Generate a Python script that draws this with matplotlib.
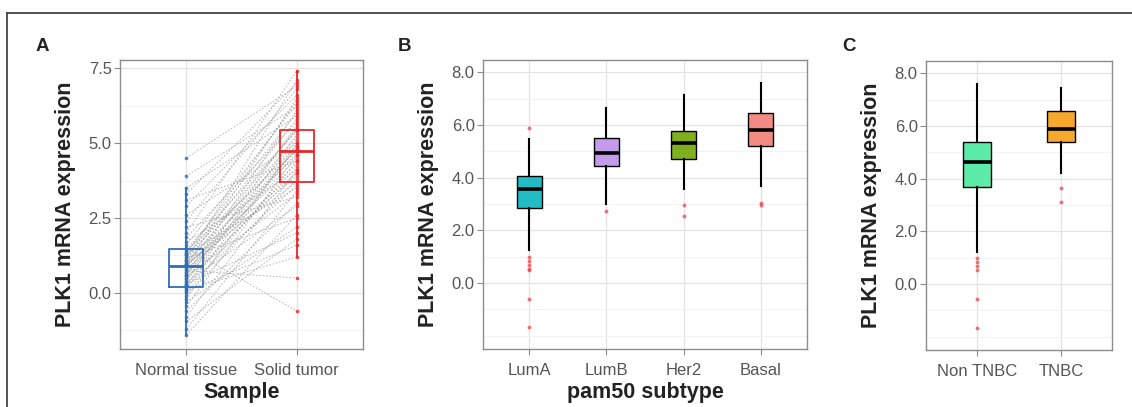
"""
PLK1 mRNA expression: paired normal/tumour (A), pam50 subtype (B), TNBC status (C).
"""

import matplotlib.pyplot as plt
from matplotlib.lines import Line2D
from matplotlib.ticker import FixedLocator, FormatStrFormatter

plt.rcParams["font.family"] = ["Liberation Sans", "DejaVu Sans"]

# ── panel A: paired samples ──────────────────────────────────────────────
PAIR_GROUPS = ["Normal tissue", "Solid tumor"]
normal_vals = [
    -1.4, -1.2, -0.95, -0.8, -0.6, -0.45, -0.3, -0.2, -0.1, 0.0,
    0.1, 0.15, 0.2, 0.25, 0.3, 0.35, 0.4, 0.45, 0.5, 0.55,
    0.6, 0.65, 0.7, 0.75, 0.8, 0.85, 0.88, 0.9, 0.92, 0.95,
    1.0, 1.05, 1.1, 1.15, 1.2, 1.25, 1.3, 1.35, 1.4, 1.45,
    1.5, 1.6, 1.7, 1.85, 2.0, 2.2, 2.4, 2.6, 2.9, 3.1,
    3.3, 3.5, 3.9, 4.5, 0.05, 0.6, 1.1, 0.3, 0.95, 1.3,
]
tumor_vals = [
    2.6, 3.4, 1.8, 4.1, 3.0, 4.6, 2.2, 5.0, 3.8, 4.4,
    1.2, 4.9, 3.6, 5.3, 4.2, 2.9, 5.6, 4.0, 4.7, 3.3,
    6.1, 4.5, 5.1, 0.5, 3.9, 4.8, 5.5, 4.3, 6.5, 3.7,
    5.2, 4.6, 7.1, 2.5, 5.8, 4.9, 3.5, 6.0, 4.75, 5.4,
    -0.6, 6.3, 4.1, 5.7, 7.4, 3.2, 6.8, 5.0, 6.6, 4.4,
    7.0, 5.9, 6.2, 6.9, 1.6, 4.8, 5.45, 2.0, 4.0, 6.4,
]
# box stats: (q1, median, q3, whisker low, whisker high)
pair_box = {
    "Normal tissue": (0.2, 0.9, 1.45, -1.4, 3.5),
    "Solid tumor": (3.7, 4.75, 5.45, 1.2, 7.4),
}

# ── panel B: pam50 subtype ───────────────────────────────────────────────
PAM50 = ["LumA", "LumB", "Her2", "Basal"]
pam50_q1 = [2.85, 4.45, 4.7, 5.2]
pam50_med = [3.55, 4.95, 5.3, 5.8]
pam50_q3 = [4.05, 5.5, 5.75, 6.45]
pam50_lo = [1.25, 3.0, 3.55, 3.7]
pam50_hi = [5.45, 6.65, 7.15, 7.6]
pam50_out = [
    [5.9, 1.0, 0.85, 0.7, 0.55, 0.5, -0.6, -1.65],
    [2.75],
    [2.95, 2.55],
    [3.05, 2.98],
]

# ── panel C: TNBC status ─────────────────────────────────────────────────
TNBC = ["Non TNBC", "TNBC"]
tnbc_q1 = [3.7, 5.4]
tnbc_med = [4.65, 5.9]
tnbc_q3 = [5.4, 6.55]
tnbc_lo = [1.2, 4.2]
tnbc_hi = [7.6, 7.45]
tnbc_out = [
    [1.0, 0.85, 0.7, 0.55, -0.55, -1.65],
    [3.65, 3.1],
]

# ── style ────────────────────────────────────────────────────────────────
NORMAL_COLOR = "#2F6DB5"
TUMOR_COLOR = "#E8262A"
PAM50_COLORS = ["#22BCC6", "#C39BEA", "#7FAE1E", "#F28B84"]
TNBC_COLORS = ["#5DEBAA", "#F6A82C"]
OUTLIER_COLOR = "#E8474C"
FRAME = "#8C8C8C"
GRID_MAJOR = "#E3E3E3"
GRID_MINOR = "#F2F2F2"
TICK_TEXT = "#555555"


def _style(ax, ylim, yticks, minor, fmt, labels, xlabel=None):
    ax.set_xlim(0.4, len(labels) + 0.6)
    ax.set_ylim(*ylim)
    ax.set_xticks(range(1, len(labels) + 1))
    ax.set_xticklabels(labels)
    ax.yaxis.set_major_locator(FixedLocator(yticks))
    ax.yaxis.set_minor_locator(FixedLocator(minor))
    ax.yaxis.set_major_formatter(FormatStrFormatter(fmt))
    ax.grid(True, which="major", color=GRID_MAJOR, lw=0.9, zorder=0)
    ax.grid(True, which="minor", axis="y", color=GRID_MINOR, lw=0.7, zorder=0)
    ax.set_axisbelow(True)
    for sp in ax.spines.values():
        sp.set_color(FRAME)
        sp.set_linewidth(1.0)
    ax.tick_params(which="major", length=4, color=FRAME, labelcolor=TICK_TEXT,
                   labelsize=12, pad=2)
    ax.tick_params(axis="x", which="major", pad=6)
    ax.tick_params(which="minor", length=0)
    ax.set_ylabel("PLK1 mRNA expression", fontsize=15.5, fontweight="bold",
                  color="#222222", labelpad=9)
    if xlabel:
        ax.set_xlabel(xlabel, fontsize=15.5, fontweight="bold", color="#222222",
                      labelpad=3)


def _filled_boxes(ax, q1, med, q3, lo, hi, outliers, colors):
    stats = [
        dict(q1=a, med=m, q3=b, whislo=l, whishi=h, fliers=f)
        for a, m, b, l, h, f in zip(q1, med, q3, lo, hi, outliers)
    ]
    bp = ax.bxp(
        stats, widths=0.33, patch_artist=True, showcaps=False,
        boxprops=dict(edgecolor="black", lw=1.0),
        medianprops=dict(color="black", lw=2.6),
        whiskerprops=dict(color="black", lw=1.5),
        flierprops=dict(marker="o", markersize=2.8, markerfacecolor=OUTLIER_COLOR,
                        markeredgecolor="none", alpha=0.75),
        zorder=3,
    )
    for patch, c in zip(bp["boxes"], colors):
        patch.set_facecolor(c)


fig = plt.figure(figsize=(11.32, 4.07), dpi=100)

ax_a = fig.add_axes([0.106, 0.1425, 0.2147, 0.710])
ax_b = fig.add_axes([0.4267, 0.1425, 0.2862, 0.710])
ax_c = fig.add_axes([0.818, 0.140, 0.1643, 0.710])

# panel A ----------------------------------------------------------------
for n, t in zip(normal_vals, tumor_vals):
    ax_a.plot([1, 2], [n, t], color="#9A9A9A", lw=0.6, ls=(0, (2, 2)),
              alpha=0.8, zorder=2)
ax_a.scatter([1] * len(normal_vals), normal_vals, s=7, color=NORMAL_COLOR,
             alpha=0.8, zorder=4, linewidths=0)
ax_a.scatter([2] * len(tumor_vals), tumor_vals, s=7, color=TUMOR_COLOR,
             alpha=0.8, zorder=4, linewidths=0)
for i, (grp, col) in enumerate(zip(PAIR_GROUPS, [NORMAL_COLOR, TUMOR_COLOR])):
    q1, med, q3, lo, hi = pair_box[grp]
    ax_a.bxp([dict(q1=q1, med=med, q3=q3, whislo=lo, whishi=hi, fliers=[])],
             positions=[i + 1], widths=0.31, showcaps=False,
             boxprops=dict(color=col, lw=1.3),
             medianprops=dict(color=col, lw=2.0),
             whiskerprops=dict(color=col, lw=1.3), zorder=5)
_style(ax_a, (-1.87, 7.77), [0, 2.5, 5, 7.5], [-1.25, 1.25, 3.75, 6.25], "%.1f",
       PAIR_GROUPS, "Sample")

# panel B ----------------------------------------------------------------
_filled_boxes(ax_b, pam50_q1, pam50_med, pam50_q3, pam50_lo, pam50_hi,
              pam50_out, PAM50_COLORS)
_style(ax_b, (-2.5, 8.46), [0, 2, 4, 6, 8], [-2, -1, 1, 3, 5, 7], "%.1f",
       PAM50, "pam50 subtype")

# panel C ----------------------------------------------------------------
_filled_boxes(ax_c, tnbc_q1, tnbc_med, tnbc_q3, tnbc_lo, tnbc_hi,
              tnbc_out, TNBC_COLORS)
_style(ax_c, (-2.5, 8.46), [0, 2, 4, 6, 8], [-2, -1, 1, 3, 5, 7], "%.1f",
       TNBC)

# panel letters
for x, letter in [(0.031, "A"), (0.351, "B"), (0.744, "C")]:
    fig.text(x, 0.875, letter, fontsize=13.5, fontweight="bold", color="#222222")

# outer frame lines (top and left)
fig.add_artist(Line2D([0.006, 1.0], [0.968, 0.968], color="#444444", lw=1.3,
                      transform=fig.transFigure))
fig.add_artist(Line2D([0.006, 0.006], [0.0, 0.968], color="#444444", lw=1.3,
                      transform=fig.transFigure))

fig.savefig("out.png", dpi=100)
